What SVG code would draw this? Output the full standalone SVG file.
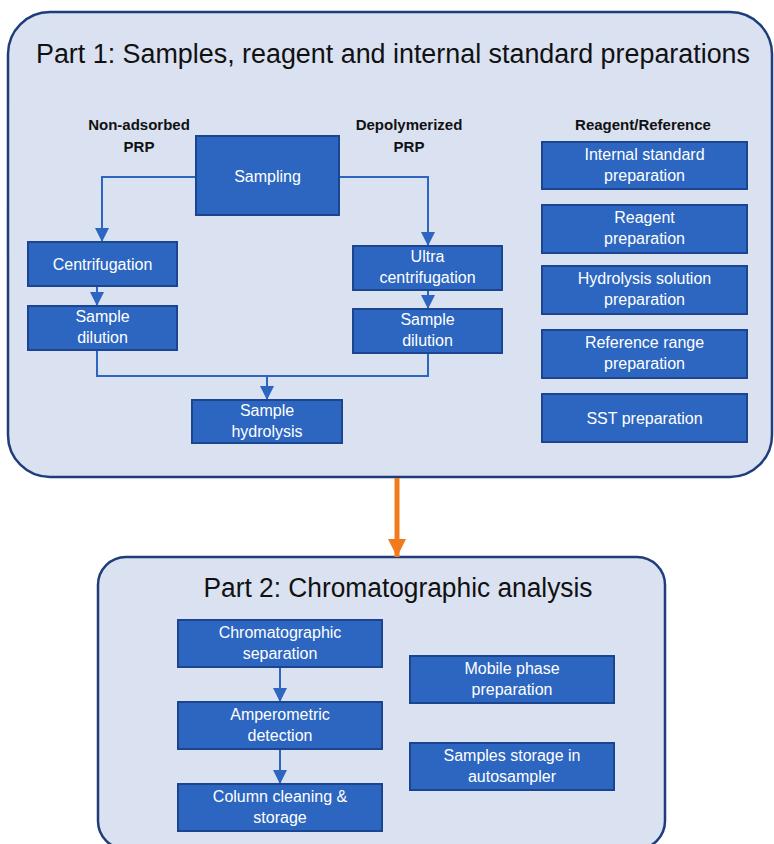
<svg xmlns="http://www.w3.org/2000/svg" width="774" height="844" viewBox="0 0 774 844">
<style>
.panel{fill:#dae1f1;stroke:#1f3d7a;stroke-width:2.5}
.box{fill:#2c66c0;stroke:#1c4590;stroke-width:2}
.t{font-family:"Liberation Sans",Arial,sans-serif;font-size:16px;fill:#ffffff;text-anchor:middle}
.h{font-family:"Liberation Sans",Arial,sans-serif;font-size:15px;font-weight:bold;fill:#111111;text-anchor:middle}
.title{font-family:"Liberation Sans",Arial,sans-serif;font-size:27px;fill:#111111;text-anchor:middle}
.c{fill:none;stroke:#2c66c0;stroke-width:2}
</style>
<defs>
<marker id="ab" viewBox="0 0 10 10" refX="10" refY="5" markerWidth="14" markerHeight="15" markerUnits="userSpaceOnUse" orient="auto">
<path d="M0,0 L10,5 L0,10 Z" fill="#2c66c0"/>
</marker>
<marker id="ao" viewBox="0 0 10 10" refX="10" refY="5" markerWidth="18" markerHeight="18" markerUnits="userSpaceOnUse" orient="auto">
<path d="M0,0 L10,5 L0,10 Z" fill="#f07b1c"/>
</marker>
</defs>

<g id="part1">
<rect class="panel" x="8" y="12" width="764" height="465" rx="42"/>
<text class="title" x="393" y="63" textLength="714" lengthAdjust="spacingAndGlyphs">Part 1: Samples, reagent and internal standard preparations</text>
<text class="h" x="139" y="130">Non-adsorbed</text>
<text class="h" x="139" y="152">PRP</text>
<text class="h" x="409" y="130">Depolymerized</text>
<text class="h" x="409" y="152">PRP</text>
<text class="h" x="643" y="130">Reagent/Reference</text>
</g>

<g id="part2">
<rect class="panel" x="98" y="557" width="567" height="292" rx="28"/>
<text class="title" x="398" y="597" textLength="389" lengthAdjust="spacingAndGlyphs">Part 2: Chromatographic analysis</text>
</g>

<g id="connectors">
<path class="c" d="M196,177 H102 V242" marker-end="url(#ab)"/>
<path class="c" d="M339,177 H428 V246" stroke-width="1.5" marker-end="url(#ab)"/>
<path class="c" d="M97,286 V306" marker-end="url(#ab)"/>
<path class="c" d="M428,290 V309" marker-end="url(#ab)"/>
<path class="c" d="M97,350 V376 H428 V353" stroke-width="1.5"/>
<path class="c" d="M267,376 V400" marker-end="url(#ab)"/>
<path class="c" d="M280,667 V702" marker-end="url(#ab)"/>
<path class="c" d="M280,749 V784" marker-end="url(#ab)"/>
<path d="M397,478 V557" fill="none" stroke="#f07b1c" stroke-width="5" marker-end="url(#ao)"/>
</g>

<g id="sampling"><rect class="box" x="196" y="136" width="143" height="79"/><text class="t" x="267.5" y="182">Sampling</text></g>
<g id="centrifugation"><rect class="box" x="28" y="242" width="149" height="44"/><text class="t" x="102.5" y="270">Centrifugation</text></g>
<g id="dilution-left"><rect class="box" x="28" y="306" width="149" height="44"/><text class="t" x="102.5" y="322">Sample</text><text class="t" x="102.5" y="343">dilution</text></g>
<g id="ultracentrifugation"><rect class="box" x="353" y="246" width="149" height="44"/><text class="t" x="427.5" y="262">Ultra</text><text class="t" x="427.5" y="283">centrifugation</text></g>
<g id="dilution-right"><rect class="box" x="353" y="309" width="149" height="44"/><text class="t" x="427.5" y="325">Sample</text><text class="t" x="427.5" y="346">dilution</text></g>
<g id="hydrolysis"><rect class="box" x="192" y="400" width="150" height="43"/><text class="t" x="267" y="416">Sample</text><text class="t" x="267" y="437">hydrolysis</text></g>

<g id="internal-standard"><rect class="box" x="542" y="142" width="205" height="47"/><text class="t" x="644.5" y="160">Internal standard</text><text class="t" x="644.5" y="181">preparation</text></g>
<g id="reagent"><rect class="box" x="542" y="205" width="205" height="48"/><text class="t" x="644.5" y="223">Reagent</text><text class="t" x="644.5" y="244">preparation</text></g>
<g id="hydrolysis-solution"><rect class="box" x="542" y="266" width="205" height="48"/><text class="t" x="644.5" y="284">Hydrolysis solution</text><text class="t" x="644.5" y="305">preparation</text></g>
<g id="reference-range"><rect class="box" x="542" y="330" width="205" height="48"/><text class="t" x="644.5" y="348">Reference range</text><text class="t" x="644.5" y="369">preparation</text></g>
<g id="sst"><rect class="box" x="542" y="394" width="205" height="48"/><text class="t" x="644.5" y="424">SST preparation</text></g>

<g id="chromatographic-separation"><rect class="box" x="178" y="620" width="204" height="47"/><text class="t" x="280" y="638">Chromatographic</text><text class="t" x="280" y="659">separation</text></g>
<g id="amperometric"><rect class="box" x="178" y="702" width="204" height="47"/><text class="t" x="280" y="720">Amperometric</text><text class="t" x="280" y="741">detection</text></g>
<g id="column-cleaning"><rect class="box" x="178" y="784" width="204" height="47"/><text class="t" x="280" y="802">Column cleaning &amp;</text><text class="t" x="280" y="823">storage</text></g>
<g id="mobile-phase"><rect class="box" x="410" y="656" width="204" height="47"/><text class="t" x="512" y="674">Mobile phase</text><text class="t" x="512" y="695">preparation</text></g>
<g id="samples-storage"><rect class="box" x="410" y="743" width="204" height="47"/><text class="t" x="512" y="761">Samples storage in</text><text class="t" x="512" y="782">autosampler</text></g>
</svg>
